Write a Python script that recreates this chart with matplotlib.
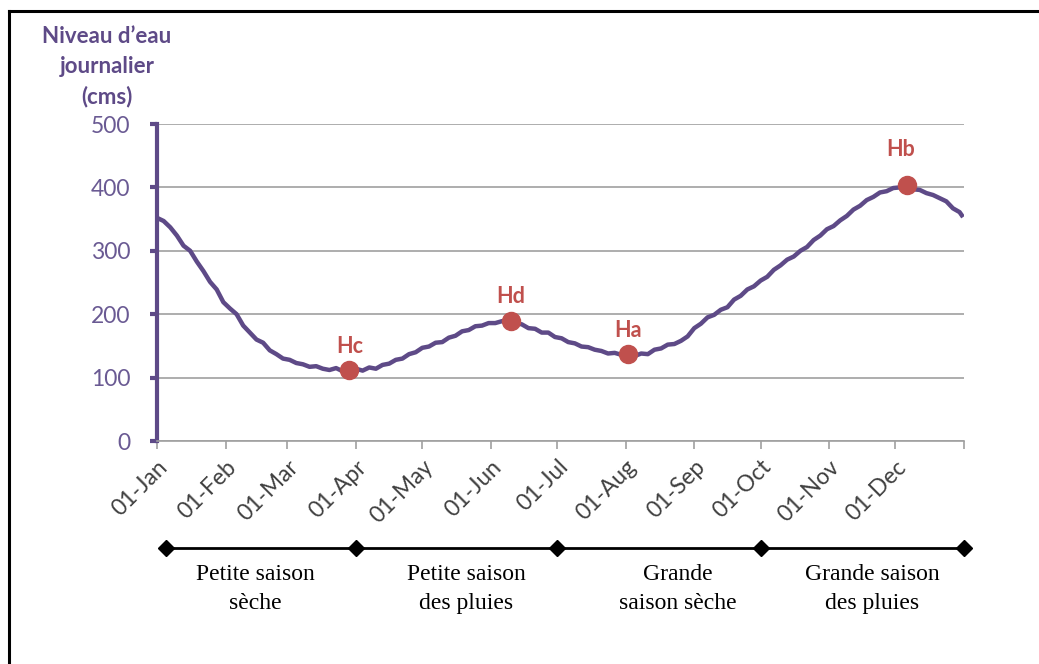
import matplotlib
matplotlib.use("Agg")
import matplotlib.pyplot as plt
import matplotlib.dates as mdates
from matplotlib.transforms import blended_transform_factory
import pandas as pd

# niveau d'eau journalier relevé tous les 3 jours (jour de l'année, cms)
jour = list(range(0, 364, 3)) + [364]
niveau = [
    352, 347, 337, 324, 308, 300, 283, 268, 251, 239,
    219, 209, 200, 182, 171, 160, 155, 143, 137, 130,
    128, 123, 121, 117, 118, 114, 112, 115, 110, 112,
    114, 111, 116, 114, 120, 122, 128, 130, 137, 140,
    147, 149, 155, 156, 163, 166, 173, 175, 181, 182,
    186, 186, 189, 190, 186, 184, 178, 177, 171, 171,
    164, 162, 156, 154, 149, 148, 144, 142, 138, 139,
    136, 137, 134, 138, 137, 144, 146, 152, 153, 158,
    165, 178, 185, 195, 199, 207, 211, 223, 229, 239,
    244, 253, 259, 270, 277, 286, 291, 300, 306, 317,
    324, 334, 339, 348, 355, 365, 371, 380, 385, 392,
    394, 399, 400, 403, 397, 396, 391, 388, 383, 378,
    367, 361, 356,
]

# points caractéristiques
pts_noms = ["Hc", "Hd", "Ha", "Hb"]
pts_jour = [87, 160, 213, 339]
pts_niveau = [112, 190, 137, 403]

# saisons
saison_bornes = ["2015-01-05", "2015-04-01", "2015-07-01", "2015-10-01", "2016-01-01"]
saison_noms = ["Petite saison\nsèche", "Petite saison\ndes pluies",
               "Grande\nsaison sèche", "Grande saison\ndes pluies"]

VIOLET = "#5e4a87"
VIOLET_TXT = "#6a5a93"
ROUGE = "#c0504d"

debut = pd.Timestamp("2015-01-01")
x = debut + pd.to_timedelta(jour, unit="D")
px = debut + pd.to_timedelta(pts_jour, unit="D")

fig = plt.figure(figsize=(10.39, 6.64), dpi=100)
ax = fig.add_axes([157 / 1039, 1 - 441 / 664, 807 / 1039, 317 / 664])

ax.plot(x, niveau, color=VIOLET, lw=3.2, solid_joinstyle="round", zorder=3)
ax.plot(px, pts_niveau, "o", color=ROUGE, ms=13, zorder=4)
for nom, xx, yy in zip(pts_noms, px, pts_niveau):
    dy = 26 if nom == "Hb" else 17
    dx = -4 if nom == "Hb" else 0
    ax.annotate(nom, (xx, yy), xytext=(dx, dy), textcoords="offset points",
                ha="center", va="center", color=ROUGE, fontsize=15.5,
                fontweight="bold", family="Lato")

ax.set_ylim(0, 500)
ax.set_yticks(range(0, 501, 100))
ax.set_xlim(debut, pd.Timestamp("2016-01-01"))
ax.set_xticks(pd.date_range("2015-01-01", periods=13, freq="MS"))
ax.xaxis.set_major_formatter(mdates.DateFormatter("%d-%b"))
labels = ax.get_xticklabels()
ax.set_xticklabels([t.get_text() for t in labels[:-1]] + [""])
for t in ax.get_xticklabels():
    t.set_rotation(45)
    t.set_ha("right")
    t.set_rotation_mode("anchor")
    t.set_family("Lato")
    t.set_fontsize(16.5)
    t.set_color("#404040")

ax.grid(axis="y", color="#a0a0a0", lw=1.2)
ax.set_axisbelow(True)
for s in ["top", "right"]:
    ax.spines[s].set_visible(False)
ax.spines["left"].set_color(VIOLET)
ax.spines["left"].set_linewidth(3)
ax.spines["bottom"].set_color("#a0a0a0")
ax.spines["bottom"].set_linewidth(1.2)
ax.tick_params(axis="y", colors=VIOLET, width=3, length=5, labelsize=16.5,
               labelcolor=VIOLET_TXT, pad=14)
ax.tick_params(axis="x", colors="#a0a0a0", width=1.2, length=6, pad=5,
               labelcolor="#404040")
for t in ax.get_yticklabels():
    t.set_family("Lato")

fig.text(107 / 1039, 1 - 67 / 664, "Niveau d\u2019eau\njournalier\n(cms)",
         ha="center", va="center", color=VIOLET, fontsize=16,
         fontweight="bold", family="Lato", linespacing=1.5)

# frise des saisons
tr = blended_transform_factory(ax.transData, fig.transFigure)
bornes = pd.to_datetime(saison_bornes)
ax.plot(bornes, [1 - 548 / 664] * len(bornes), color="black", lw=2,
        marker="D", ms=8, transform=tr, clip_on=False)
for nom, xc in zip(saison_noms, [255, 466, 678, 872]):
    fig.text(xc / 1039, 1 - 589 / 664, nom, ha="center", va="center",
             family="Liberation Serif", fontsize=17, linespacing=1.45)

# cadre
fig.add_artist(plt.Line2D([9 / 1039, 9 / 1039], [0, 1 - 11 / 664],
                          color="black", lw=2.2, transform=fig.transFigure))
fig.add_artist(plt.Line2D([9 / 1039, 1], [1 - 11 / 664, 1 - 11 / 664],
                          color="black", lw=2.2, transform=fig.transFigure))

fig.savefig("out.png", dpi=100)
